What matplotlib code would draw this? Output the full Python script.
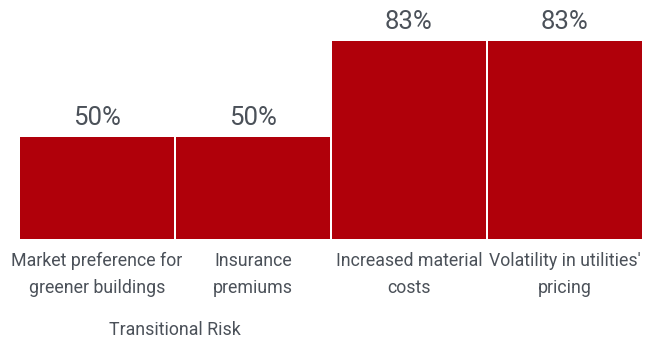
import matplotlib
matplotlib.use("Agg")
import matplotlib.pyplot as plt
from matplotlib import transforms

categories = ["Market preference for\ngreener buildings", "Insurance\npremiums",
              "Increased material\ncosts", "Volatility in utilities'\npricing"]
values = [50, 50, 83, 83]
group_label = "Transitional Risk"

bar_color = "#B0000A"
text_color = "#4B5159"
font = ["Roboto", "DejaVu Sans"]

W, H = 651, 341
fig = plt.figure(figsize=(W / 100, H / 100), dpi=100)
ax = fig.add_axes([20 / W, (H - 239) / H, 622 / W, 239 / H])

width = 154 / 156
x = list(range(len(values)))
bars = ax.bar(x, values, width=width, color=bar_color, linewidth=0)
ax.set_xlim(-width / 2, len(values) - 1 + width / 2)
ax.set_ylim(15, 15 + 239 / (96 / 33))

for b, v in zip(bars, values):
    ax.annotate(f"{v}%", (b.get_x() + b.get_width() / 2, v), xytext=(0, 5),
                textcoords="offset points", ha="center", va="bottom",
                fontsize=18.5, color=text_color, family=font)

ax.set_xticks(x)
ax.set_xticklabels(categories, fontsize=12.8, color=text_color, family=font,
                   linespacing=1.6)
ax.tick_params(axis="x", length=0, pad=9.5)
ax.set_yticks([])
for s in ax.spines.values():
    s.set_visible(False)

trans = transforms.blended_transform_factory(ax.transData, fig.transFigure)
ax.text(0.5, (H - 335) / H, group_label, ha="center", va="baseline",
        fontsize=12.8, color=text_color, family=font, transform=trans)

fig.savefig("out.png", dpi=100)
